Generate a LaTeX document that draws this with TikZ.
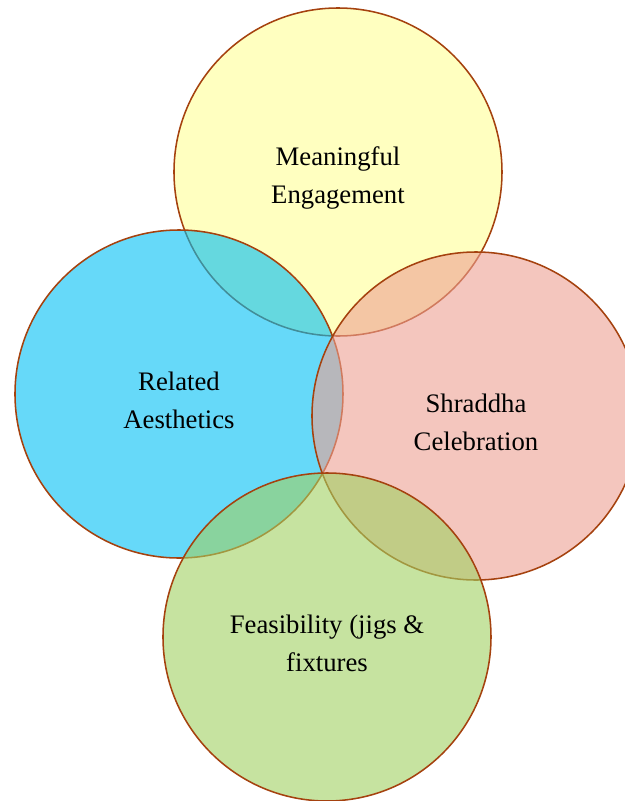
\documentclass[tikz,border=0pt]{standalone}
\usepackage{fontspec}
\setmainfont{Liberation Serif}
\usetikzlibrary{positioning}

\definecolor{ringedge}{RGB}{165,66,15}
\definecolor{engyellow}{RGB}{255,255,150}
\definecolor{aesblue}{RGB}{0,192,245}
\definecolor{shrpink}{RGB}{237,160,147}
\definecolor{feagreen}{RGB}{160,208,97}

\begin{document}
\begin{tikzpicture}[
    node distance=2.5cm,
    petal/.style={circle, draw=ringedge, line width=1.1pt, fill opacity=0.6,
      minimum size=8.2cm},
    caption/.style={align=center, font=\fontsize{19}{27}\selectfont, yshift=-0.15cm},
    ]
    \useasboundingbox (-8.45,4.3) rectangle (7.175,-15.725);

    \node[petal, fill=engyellow] (engage) {};
    \node[petal, fill=aesblue, on grid, below left=5.55cm and 3.975cm of engage] (aesth) {};
    \node[petal, fill=shrpink, on grid, below right=6.1cm and 3.45cm of engage] (shraddha) {};
    \node[petal, fill=feagreen, on grid, below left=11.625cm and 0.275cm of engage] (feas) {};

    % circle captions
    \node[caption] (engage-t) at (engage.center) {Meaningful\\Engagement};
    \node[caption] (aesth-t) at (aesth.center) {Related\\Aesthetics};
    \node[caption] (shraddha-t) at (shraddha.center) {Shraddha\\Celebration};
    \node[caption] (feas-t) at (feas.center) {Feasibility (jigs \&\\fixtures};

  \end{tikzpicture}
\end{document}
